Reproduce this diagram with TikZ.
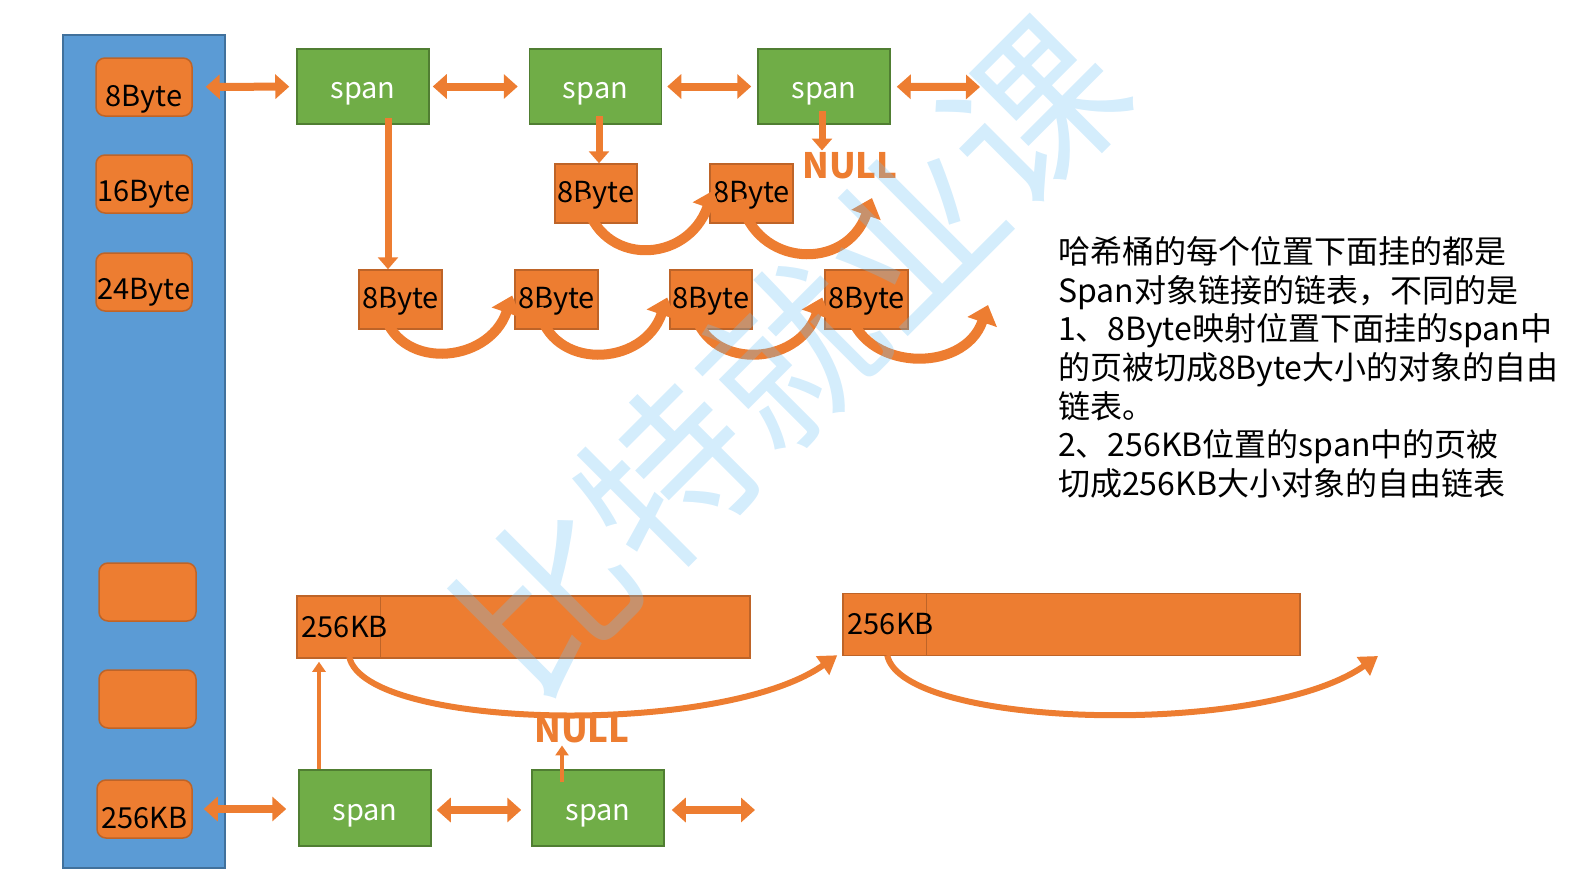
\documentclass[tikz,border=0pt]{standalone}
\usepackage{fontspec}
\setmainfont{Noto Sans CJK SC}
\usetikzlibrary{arrows.meta}

\newlength{\du}
\setlength{\du}{1pt}

\definecolor{boxorange}{RGB}{237,125,49}
\definecolor{boxorangeline}{RGB}{190,100,40}
\definecolor{spangreen}{RGB}{112,173,71}
\definecolor{spangreenline}{RGB}{80,126,50}
\definecolor{bucketblue}{RGB}{91,155,213}
\definecolor{bucketblueline}{RGB}{65,113,156}
\definecolor{markblue}{RGB}{112,194,245}

\tikzset{
  bucket/.style={rectangle,fill=bucketblue,draw=bucketblueline,line width=1.5\du,
    minimum width=162\du,minimum height=833\du,inner sep=0pt},
  slot/.style={rectangle,rounded corners=9\du,fill=boxorange,draw=boxorangeline,
    line width=1.5\du,minimum width=96\du,minimum height=58\du,inner sep=0pt,
    text height=34\du,text depth=0pt,font=\fontsize{29}{34}\selectfont},
  spanbox/.style={rectangle,fill=spangreen,draw=spangreenline,line width=1.5\du,
    minimum width=132\du,minimum height=75\du,inner sep=0pt,text=white,
    text height=24\du,text depth=0pt,font=\fontsize{29}{34}\selectfont},
  objbox/.style={rectangle,fill=boxorange,draw=boxorangeline,line width=1.5\du,
    minimum width=83\du,minimum height=59\du,inner sep=0pt,
    text height=24\du,text depth=6\du,font=\fontsize{29}{34}\selectfont},
  bigobj/.style={rectangle,fill=boxorange,draw=boxorangeline,line width=1.5\du,
    minimum height=62\du,inner sep=0pt},
  cellbox/.style={rectangle,draw=boxorangeline,line width=1\du,minimum width=84\du,
    minimum height=62\du,inner xsep=5\du,inner ysep=0pt,text width=74\du,align=left,
    font=\fontsize{29}{34}\selectfont},
  nulltext/.style={inner sep=0pt,text=boxorange,font=\bfseries\fontsize{35}{40}\selectfont},
  note/.style={inner sep=0pt,align=left,font=\fontsize{32}{38.7}\selectfont},
  dbllink/.style={draw=boxorange,line width=8pt,
    {Triangle[length=14pt,width=24pt]}-{Triangle[length=14pt,width=24pt]}},
  downlink/.style={draw=boxorange,line width=7pt,-{Triangle[length=12pt,width=20pt]}},
  thinlink/.style={draw=boxorange,line width=4pt,-{Triangle[length=10pt,width=13pt]}},
  hoplink/.style={draw=boxorange,line width=10pt,-{Triangle[length=18pt,width=30pt]}},
  longhop/.style={draw=boxorange,line width=6pt,-{Triangle[length=18pt,width=22pt]}},
}

\begin{document}
\begin{tikzpicture}
\useasboundingbox (0,0) rectangle (1574\du,-894\du);

% hash bucket
\node[bucket] (hash) at (144\du,-451.5\du) {};
\node[slot,text height=38\du] (s8) at (144\du,-87\du) {8Byte};
\node[slot] (s16) at (144\du,-184\du) {16Byte};
\node[slot] (s24) at (144\du,-282\du) {24Byte};
\node[slot,minimum width=97\du] (se1) at (147.5\du,-592\du) {};
\node[slot,minimum width=97\du] (se2) at (147.5\du,-699\du) {};
\node[slot,minimum width=95\du,text height=38\du] (s256) at (144.5\du,-809\du) {256KB};

% spans of 8Byte
\node[spanbox] (sp1) at (363\du,-86.5\du) {span};
\node[spanbox] (sp2) at (595.5\du,-86.5\du) {span};
\node[spanbox] (sp3) at (824\du,-86.5\du) {span};
\coordinate (sp3r) at (980\du,-87\du);

\draw[dbllink,shorten <=13pt,shorten >=7pt] (s8) -- (sp1);
\draw[dbllink,shorten <=3pt,shorten >=11pt] (sp1) -- (sp2);
\draw[dbllink,shorten <=5pt,shorten >=6pt] (sp2) -- (sp3);
\draw[dbllink,shorten <=6pt] (sp3) -- (sp3r);

% objects of 8Byte
\node[objbox,minimum width=82\du] (m1) at (596\du,-193.5\du) {8Byte};
\node[objbox] (m2) at (751.5\du,-193.5\du) {8Byte};
\node[nulltext] (null1) at (850\du,-166\du) {NULL};
\coordinate (m2r) at (872\du,-198\du);

\node[objbox] (b1) at (400.5\du,-299.5\du) {8Byte};
\node[objbox] (b2) at (556.5\du,-299.5\du) {8Byte};
\node[objbox,minimum width=82\du] (b3) at (711\du,-299.5\du) {8Byte};
\node[objbox] (b4) at (866.5\du,-299.5\du) {8Byte};
\coordinate (b4r) at (988\du,-305\du);

\draw[downlink] ([xshift=25\du,yshift=7\du]sp1.south) -- ([xshift=-12.5\du]b1.north);
\draw[downlink] ([xshift=3.5\du,yshift=9\du]sp2.south) -- ([xshift=3\du]m1.north);
\draw[downlink] ([xshift=-2\du,yshift=14\du]sp3.south) -- ([xshift=-28\du,yshift=2\du]null1.north);

\draw[hoplink] ([xshift=-11\du,yshift=-6\du]m1.center) .. controls +(15\du,-68\du) and +(-26\du,-74\du) .. ([xshift=4\du,yshift=3\du]m2.west);
\draw[hoplink] ([xshift=-11\du,yshift=-6\du]m2.center) .. controls +(15\du,-68\du) and +(-26\du,-74\du) .. (m2r);

\draw[hoplink] ([xshift=-18\du,yshift=-8\du]b1.center) .. controls +(12\du,-64\du) and +(-24\du,-70\du) .. ([xshift=-2\du,yshift=4\du]b2.west);
\draw[hoplink] ([xshift=-18\du,yshift=-8\du]b2.center) .. controls +(12\du,-64\du) and +(-24\du,-70\du) .. ([xshift=-2\du,yshift=2\du]b3.west);
\draw[hoplink] ([xshift=-18\du,yshift=-8\du]b3.center) .. controls +(12\du,-64\du) and +(-24\du,-70\du) .. ([xshift=-2\du,yshift=2\du]b4.west);
\draw[hoplink] ([xshift=-18\du,yshift=-8\du]b4.center) .. controls +(12\du,-64\du) and +(-24\du,-70\du) .. (b4r);

% spans of 256KB
\node[bigobj,minimum width=453\du] (k1) at (523.5\du,-627\du) {};
\node[cellbox,anchor=west] (c1) at (k1.west) {256KB};
\node[bigobj,minimum width=457\du] (k2) at (1071.5\du,-624.5\du) {};
\node[cellbox,anchor=west,minimum width=83\du] (c2) at (k2.west) {256KB};
\coordinate (k2r) at (1378\du,-656\du);

\node[spanbox,minimum height=76\du] (sp4) at (365\du,-808\du) {span};
\node[spanbox,minimum height=76\du] (sp5) at (598\du,-808\du) {span};
\node[nulltext] (null2) at (582\du,-730\du) {NULL};
\coordinate (sp5r) at (755\du,-810\du);

\draw[dbllink,shorten <=11pt,shorten >=12pt] (s256.east) -- (s256.east -| sp4.west);
\draw[dbllink,shorten <=5pt,shorten >=10pt] ([yshift=-2\du]sp4.east) -- ([yshift=-2\du]sp5.west);
\draw[dbllink,shorten <=7pt] ([yshift=-2\du]sp5.east) -- (sp5r);

\draw[thinlink] ([xshift=-46\du]sp4.north) -- ([xshift=-204.5\du,yshift=-3\du]k1.south);
\draw[thinlink] ([xshift=-36\du,yshift=-13\du]sp5.north) -- ([xshift=-20\du,yshift=-2\du]null2.south);

\draw[longhop] ([xshift=53\du,yshift=2\du]k1.south west) .. controls +(15\du,-73\du) and +(-116\du,-82\du) .. ([xshift=-5\du,yshift=1\du]k2.south west);
\draw[longhop] ([xshift=45\du,yshift=1\du]k2.south west) .. controls +(15\du,-73\du) and +(-116\du,-82\du) .. (k2r);

% explanation
\node[note,anchor=north west] (note) at (1058\du,-236\du) {哈希桶的每个位置下面挂的都是\\
Span对象链接的链表，不同的是\\
1、8Byte映射位置下面挂的span中\\
的页被切成8Byte大小的对象的自由\\
链表。\\
2、256KB位置的span中的页被\\
切成256KB大小对象的自由链表};

% watermark
\node[rotate=45,text=markblue,opacity=0.3,inner sep=0pt,font=\fontsize{172}{172}\selectfont] (mark) at (790\du,-355\du) {比特就业课};
\end{tikzpicture}
\end{document}
